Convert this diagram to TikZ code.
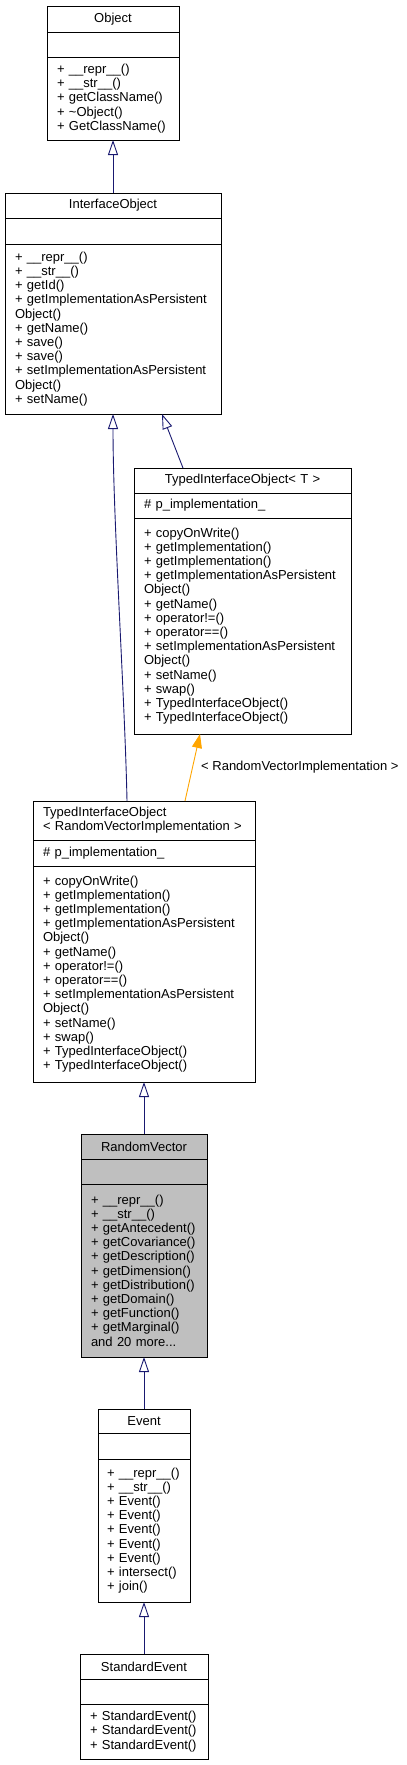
\documentclass[tikz,border=0pt]{standalone}
\usepackage{fontspec}
\setmainfont{Liberation Sans}
\usetikzlibrary{arrows.meta, positioning}
\definecolor{edgeblue}{RGB}{25,25,112}
\definecolor{edgeorange}{RGB}{255,165,0}
\definecolor{classgray}{RGB}{191,191,191}

\begin{document}
\begin{tikzpicture}[x=1pt, y=-1pt, node distance=0pt,
  every node/.style={font=\fontsize{13}{14.2}\selectfont},
  part/.style={draw, rectangle, line width=0.8pt, outer sep=0pt, inner xsep=10pt, inner ysep=0pt, align=left},
  ttl/.style={part, align=center},
  inh/.style={draw=edgeblue, line width=0.9pt, -{Triangle[open, length=15pt, width=10pt]}},
  tmpl/.style={draw=edgeorange, line width=0.9pt, -{Triangle[length=14pt, width=10pt]}}]
  \useasboundingbox (0,0) rectangle (407,1765);

  % Object
  \node[ttl, text width=112pt, minimum height=26pt] (objT) at (113,19) {Object};
  \node[part, text width=112pt, minimum height=25pt, below=of objT] (objA) {};
  \node[part, text width=112pt, minimum height=83pt, below=of objA] (objM)
    {+ \_\_repr\_\_()\\+ \_\_str\_\_()\\+ getClassName()\\+ \textasciitilde Object()\\+ GetClassName()};

  % InterfaceObject
  \node[ttl, text width=196pt, minimum height=25pt] (ioT) at (113,205.5) {InterfaceObject};
  \node[part, text width=196pt, minimum height=26pt, below=of ioT] (ioA) {};
  \node[part, text width=196pt, minimum height=170pt, below=of ioA] (ioM)
    {+ \_\_repr\_\_()\\+ \_\_str\_\_()\\+ getId()\\+ getImplementationAsPersistent\\Object()\\+ getName()\\+ save()\\+ save()\\+ setImplementationAsPersistent\\Object()\\+ setName()};

  % TypedInterfaceObject< T >
  \node[ttl, text width=197pt, minimum height=25pt] (tioTT) at (242.5,480.5) {TypedInterfaceObject< T >};
  \node[part, text width=197pt, minimum height=25pt, below=of tioTT] (tioTA) {\# p\_implementation\_};
  \node[part, text width=197pt, minimum height=216pt, below=of tioTA] (tioTM)
    {+ copyOnWrite()\\+ getImplementation()\\+ getImplementation()\\+ getImplementationAsPersistent\\Object()\\+ getName()\\+ operator!=()\\+ operator==()\\+ setImplementationAsPersistent\\Object()\\+ setName()\\+ swap()\\+ TypedInterfaceObject()\\+ TypedInterfaceObject()};

  % TypedInterfaceObject< RandomVectorImplementation >
  \node[part, text width=202pt, minimum height=39pt] (tioRT) at (144,820.5) {TypedInterfaceObject\\< RandomVectorImplementation >};
  \node[part, text width=202pt, minimum height=26pt, below=of tioRT] (tioRA) {\# p\_implementation\_};
  \node[part, text width=202pt, minimum height=216pt, below=of tioRA] (tioRM)
    {+ copyOnWrite()\\+ getImplementation()\\+ getImplementation()\\+ getImplementationAsPersistent\\Object()\\+ getName()\\+ operator!=()\\+ operator==()\\+ setImplementationAsPersistent\\Object()\\+ setName()\\+ swap()\\+ TypedInterfaceObject()\\+ TypedInterfaceObject()};

  % RandomVector
  \node[ttl, fill=classgray, text width=106pt, minimum height=25pt] (rvT) at (144,1146.5) {RandomVector};
  \node[part, fill=classgray, text width=106pt, minimum height=25pt, below=of rvT] (rvA) {};
  \node[part, fill=classgray, text width=106pt, minimum height=173pt, below=of rvA] (rvM)
    {+ \_\_repr\_\_()\\+ \_\_str\_\_()\\+ getAntecedent()\\+ getCovariance()\\+ getDescription()\\+ getDimension()\\+ getDistribution()\\+ getDomain()\\+ getFunction()\\+ getMarginal()\\and 20 more...};

  % Event
  \node[ttl, text width=74pt, inner xsep=9pt, minimum height=24pt] (evT) at (144,1421) {Event};
  \node[part, text width=74pt, inner xsep=9pt, minimum height=26pt, below=of evT] (evA) {};
  \node[part, text width=74pt, inner xsep=9pt, minimum height=143pt, below=of evA] (evM)
    {+~\_\_repr\_\_()\\+~\_\_str\_\_()\\+ Event()\\+ Event()\\+ Event()\\+ Event()\\+ Event()\\+ intersect()\\+ join()};

  % StandardEvent
  \node[ttl, text width=108pt, minimum height=25pt] (seT) at (144,1666.5) {StandardEvent};
  \node[part, text width=108pt, minimum height=25pt, below=of seT] (seA) {};
  \node[part, text width=108pt, minimum height=55pt, below=of seA] (seM)
    {+ StandardEvent()\\+ StandardEvent()\\+ StandardEvent()};

  \node[anchor=west, inner sep=0pt] (tmplLbl) at (201,767) {< RandomVectorImplementation >};

  % inheritance
  \draw[inh] (ioT) -- (objM);
  \draw[inh] ([xshift=-17pt]tioRT.north) .. controls (125,700) and (113,520) .. (ioM.south);
  \draw[inh] ([xshift=49pt]tioTT.north west) -- ([xshift=49pt]ioM.south);
  \draw[tmpl] ([xshift=41pt]tioRT.north) -- ([xshift=-42.5pt]tioTM.south);
  \draw[inh] (rvT) -- (tioRM);
  \draw[inh] (evT) -- (rvM);
  \draw[inh] (seT) -- (evM);
\end{tikzpicture}
\end{document}
